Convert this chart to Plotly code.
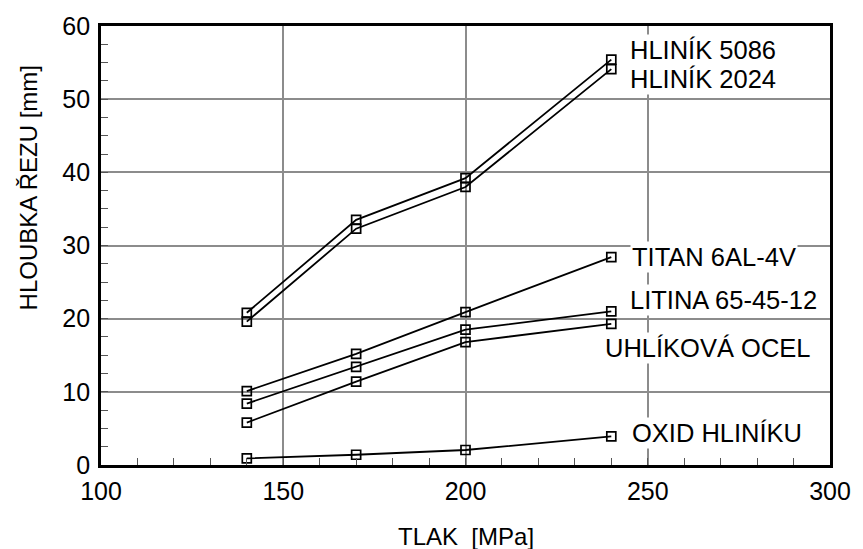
import plotly.graph_objects as go

# tlak [MPa]
tlak = [140, 170, 200, 240]

# hloubka rezu [mm] per material
hlinik_5086 = [20.8, 33.5, 39.2, 55.4]
hlinik_2024 = [19.6, 32.3, 38.0, 54.1]
titan = [10.1, 15.2, 20.9, 28.4]
litina = [8.4, 13.4, 18.5, 21.0]
uhlikova_ocel = [5.8, 11.4, 16.8, 19.3]
oxid_hliniku = [0.9, 1.4, 2.05, 3.9]

series = [hlinik_5086, hlinik_2024, titan, litina, uhlikova_ocel, oxid_hliniku]

# label text and (x, y) anchor in data units
labels = ['HLINÍK 5086', 'HLINÍK 2024', 'TITAN 6AL-4V', 'LITINA 65-45-12',
          'UHLÍKOVÁ OCEL', 'OXID HLINÍKU']
label_x = [244.6, 244.6, 245.2, 244.6, 237.6, 245.0]
label_y = [56.7, 52.7, 28.4, 22.6, 16.0, 4.4]

font = 'Liberation Sans, Arial, sans-serif'

fig = go.Figure()
for s in series:
    fig.add_trace(go.Scatter(
        x=tlak, y=s, mode='lines+markers',
        line=dict(color='black', width=1.8),
        marker=dict(symbol='square-open', size=9, color='black',
                    line=dict(width=1.7, color='black')),
        showlegend=False))

for t, lx, ly in zip(labels, label_x, label_y):
    fig.add_annotation(x=lx, y=ly, xref='x', yref='y', text=t, showarrow=False,
                       xanchor='left', yanchor='middle', bgcolor='white',
                       font=dict(family=font, size=25.5, color='#000'))

# axis titles
fig.add_annotation(x=-0.099, y=0.632, xref='paper', yref='paper',
                   text='HLOUBKA ŘEZU [mm]', textangle=-90, showarrow=False,
                   xanchor='center', yanchor='middle',
                   font=dict(family=font, size=24, color='#000'))
fig.add_annotation(x=0.5, y=-0.163, xref='paper', yref='paper',
                   text='TLAK  [MPa]', showarrow=False,
                   xanchor='center', yanchor='middle',
                   font=dict(family=font, size=24, color='#000'))

fig.update_xaxes(range=[100, 300], tickvals=[100, 150, 200, 250, 300],
                 showgrid=True, gridcolor='#8c8c8c', gridwidth=1.5,
                 showline=True, linecolor='black', linewidth=2.8, mirror=True,
                 ticks='inside', ticklen=7, tickcolor='#555', tickwidth=1.2,
                 minor=dict(dtick=10, ticks='inside', ticklen=7, tickcolor='#555',
                            tickwidth=1.2, showgrid=False),
                 zeroline=False, ticklabelstandoff=2,
                 tickfont=dict(family=font, size=25, color='#000'))
fig.update_yaxes(range=[0, 60], tickvals=[0, 10, 20, 30, 40, 50, 60],
                 showgrid=True, gridcolor='#8c8c8c', gridwidth=1.5,
                 showline=True, linecolor='black', linewidth=2.8, mirror=True,
                 ticks='inside', ticklen=7, tickcolor='#555', tickwidth=1.2,
                 minor=dict(dtick=2.5, ticks='inside', ticklen=7, tickcolor='#555',
                            tickwidth=1.2, showgrid=False),
                 zeroline=False, ticklabelstandoff=3,
                 tickfont=dict(family=font, size=25, color='#000'))

fig.update_layout(
    width=863, height=549,
    margin=dict(l=101, r=26, t=22, b=84),
    plot_bgcolor='white', paper_bgcolor='white',
    font=dict(family=font))

# page has a default body margin, drop it so the figure fills the window
fig.write_html('out.html', config={'displayModeBar': False},
               post_script="document.body.style.margin='0px';")
